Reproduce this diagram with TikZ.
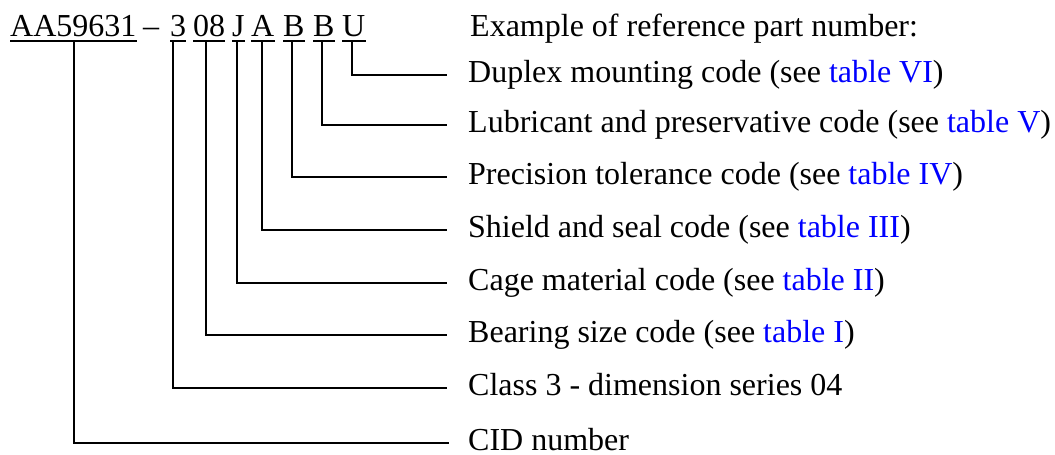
\documentclass[tikz,border=0pt]{standalone}
\usepackage{fontspec}
\setmainfont{Liberation Serif}
\usetikzlibrary{calc}
\definecolor{linkblue}{RGB}{0,0,255}
\tikzset{
  pn/.style={inner sep=0pt, anchor=base west, font=\fontsize{32}{38}\selectfont},
  lab/.style={inner sep=0pt, anchor=base west, font=\fontsize{32}{38}\selectfont},
  uline/.style={line width=1.6pt},
  leader/.style={line width=1.8pt},
}
\newcommand{\tbl}[1]{\textcolor{linkblue}{#1}}
\begin{document}
\begin{tikzpicture}[x=1pt,y=-1pt]
\useasboundingbox (0,0) rectangle (1055,455);
% part number characters
\node[pn] (pAA) at (10,36) {AA59631};
\node[pn] (pdash) at (143,36) {--};
\node[pn] (p3) at (170,36) {3};
\node[pn] (p08) at (193,36) {08};
\node[pn] (pJ) at (232,36) {J};
\node[pn] (pA) at (251,36) {A};
\node[pn] (pB1) at (283,36) {B};
\node[pn] (pB2) at (313,36) {B};
\node[pn] (pU) at (342,36) {U};
\node[lab] (ex) at (470,36) {Example of reference part number:};
% underlines
\foreach \n in {pAA,p3,p08,pJ,pA,pB1,pB2,pU}{
  \draw[uline] ($(\n.base west)+(0,5)$) -- ($(\n.base east)+(0,5)$);
}
% top points of leaders
\coordinate (tAA) at (74,41);
\coordinate (t3) at (173,41);
\coordinate (t08) at (206,41);
\coordinate (tJ) at (237,41);
\coordinate (tA) at (262,41);
\coordinate (tB1) at (292,41);
\coordinate (tB2) at (322,41);
\coordinate (tU) at (352,41);
% ends of leaders
\coordinate (eU) at (447,75);
\coordinate (eB2) at (447,125);
\coordinate (eB1) at (447,177);
\coordinate (eA) at (447,230);
\coordinate (eJ) at (447,283);
\coordinate (e08) at (447,335);
\coordinate (e3) at (447,388);
\coordinate (eAA) at (449,443);
% labels
\node[lab] (lU) at ($(eU)+(21,7.5)$) {Duplex mounting code (see \tbl{table VI})};
\node[lab] (lB2) at ($(eB2)+(21,7.5)$) {Lubricant and preservative code (see \tbl{table V})};
\node[lab] (lB1) at ($(eB1)+(21,7.5)$) {Precision tolerance code (see \tbl{table IV})};
\node[lab] (lA) at ($(eA)+(21,7.5)$) {Shield and seal code (see \tbl{table III})};
\node[lab] (lJ) at ($(eJ)+(21,7.5)$) {Cage material code (see \tbl{table II})};
\node[lab] (l08) at ($(e08)+(21,7.5)$) {Bearing size code (see \tbl{table I})};
\node[lab] (l3) at ($(e3)+(21,7.5)$) {Class 3 - dimension series 04};
\node[lab, text depth=0pt] (lAA) at ($(eAA)+(19,7)$) {CID number};
% leaders
\foreach \k in {AA,3,08,J,A,B1,B2,U}{
  \draw[leader] (t\k) |- (e\k);
}
\end{tikzpicture}
\end{document}
